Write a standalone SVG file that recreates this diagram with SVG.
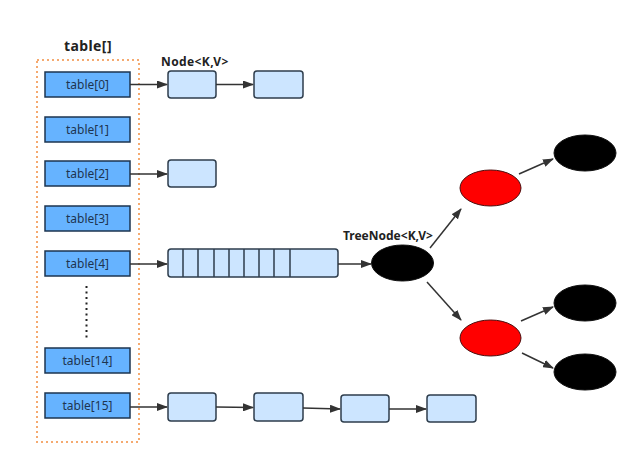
<svg xmlns="http://www.w3.org/2000/svg" width="640" height="467" viewBox="0 0 640 467">
<style>
.t{fill:#66b3ff;stroke:#1c3550;stroke-width:1.5}
.tt{font-family:"Noto Sans","Open Sans",sans-serif;font-size:12px;fill:#1e3550;text-anchor:middle}
.n{fill:#cce5ff;stroke:#2e3d4c;stroke-width:1.5}
.lb{font-family:"Noto Sans","Open Sans",sans-serif;font-size:12px;font-weight:bold;fill:#222;letter-spacing:0.4px}
.blk{fill:#000;stroke:#111;stroke-width:1}
.red{fill:#ff0000;stroke:#4a1010;stroke-width:1}
.c{stroke:#333;stroke-width:1.5;fill:none;marker-end:url(#a)}
</style>
<defs>
<marker id="a" markerWidth="11" markerHeight="8" refX="10" refY="4" orient="auto" markerUnits="userSpaceOnUse">
<path d="M0,0 L11,4 L0,8 Z" fill="#333"/>
</marker>
</defs>
<rect width="640" height="467" fill="#fff"/>
<g id="table">
<rect x="37" y="60" width="102" height="382" fill="none" stroke="#f5aa70" stroke-width="2" stroke-dasharray="2 3"/>
<text x="88" y="51" class="lb" text-anchor="middle" style="font-size:14px">table[]</text>
</g>
<g id="t0"><rect class="t" x="45" y="72" width="85" height="25"/><text class="tt" x="87.5" y="89">table[0]</text></g>
<g id="t1"><rect class="t" x="45" y="117" width="85" height="25"/><text class="tt" x="87.5" y="134">table[1]</text></g>
<g id="t2"><rect class="t" x="45" y="161" width="85" height="25"/><text class="tt" x="87.5" y="178">table[2]</text></g>
<g id="t3"><rect class="t" x="45" y="206" width="85" height="25"/><text class="tt" x="87.5" y="223">table[3]</text></g>
<g id="t4"><rect class="t" x="45" y="251" width="85" height="25"/><text class="tt" x="87.5" y="268">table[4]</text></g>
<g id="dots"><line x1="86.5" y1="286" x2="86.5" y2="338" stroke="#222" stroke-width="2" stroke-dasharray="2 3.5"/></g>
<g id="t14"><rect class="t" x="45" y="348" width="85" height="25"/><text class="tt" x="87.5" y="365">table[14]</text></g>
<g id="t15"><rect class="t" x="45" y="393" width="85" height="25"/><text class="tt" x="87.5" y="410">table[15]</text></g>
<g id="nodelabel"><text class="lb" x="161" y="66">Node&lt;K,V&gt;</text></g>
<g id="n0a"><rect class="n" x="168" y="71" width="48" height="27" rx="3"/></g>
<g id="n0b"><rect class="n" x="254" y="71" width="49" height="27" rx="3"/></g>
<g id="n2a"><rect class="n" x="168" y="160" width="48" height="27" rx="3"/></g>
<g id="n4list">
<rect class="n" x="168" y="249" width="170" height="28" rx="3"/>
<path d="M183,249V277M198,249V277M214,249V277M229,249V277M244,249V277M259,249V277M274,249V277M290,249V277" stroke="#2e3d4c" stroke-width="1.5"/>
</g>
<g id="n15a"><rect class="n" x="168" y="393" width="48" height="28" rx="3"/></g>
<g id="n15b"><rect class="n" x="254" y="393" width="49" height="28" rx="3"/></g>
<g id="n15c"><rect class="n" x="341" y="395" width="48" height="27" rx="3"/></g>
<g id="n15d"><rect class="n" x="427" y="395" width="49" height="27" rx="3"/></g>
<g id="treelabel"><text class="lb" x="343" y="240" style="letter-spacing:0">TreeNode&lt;K,V&gt;</text></g>
<g id="root"><ellipse class="blk" cx="402.5" cy="263" rx="31" ry="18"/></g>
<g id="redTop"><ellipse class="red" cx="490.5" cy="188" rx="30.5" ry="18"/></g>
<g id="redBot"><ellipse class="red" cx="490.5" cy="338" rx="30.5" ry="18"/></g>
<g id="blkA"><ellipse class="blk" cx="585" cy="153" rx="31" ry="18"/></g>
<g id="blkB"><ellipse class="blk" cx="585" cy="303" rx="31" ry="18"/></g>
<g id="blkC"><ellipse class="blk" cx="585" cy="372" rx="31" ry="18"/></g>
<g id="connectors">
<line class="c" x1="130" y1="84.5" x2="167" y2="84.5"/>
<line class="c" x1="216" y1="84.5" x2="253" y2="84.5"/>
<line class="c" x1="130" y1="174" x2="167" y2="174"/>
<line class="c" x1="130" y1="264" x2="167" y2="264"/>
<line class="c" x1="338" y1="264" x2="371" y2="264"/>
<line class="c" x1="130" y1="407" x2="167" y2="407"/>
<line class="c" x1="216" y1="407" x2="253" y2="407.5"/>
<line class="c" x1="303" y1="408" x2="340" y2="409"/>
<line class="c" x1="389" y1="409" x2="426" y2="409"/>
<line class="c" x1="430" y1="248" x2="461" y2="209"/>
<line class="c" x1="427" y1="282" x2="461" y2="320"/>
<line class="c" x1="519" y1="174" x2="553" y2="159"/>
<line class="c" x1="521" y1="321" x2="553" y2="307"/>
<line class="c" x1="522" y1="353" x2="553" y2="368"/>
</g>
</svg>
